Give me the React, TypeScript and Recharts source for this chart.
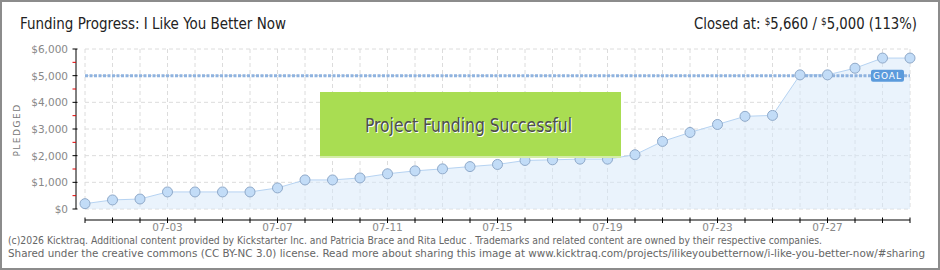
import React from 'react';
import { ComposedChart, Area, XAxis, YAxis, CartesianGrid, ReferenceLine } from 'recharts';

// daily pledged totals, 06-30 .. 07-30
const dates = [
  '06-30', '07-01', '07-02', '07-03', '07-04', '07-05', '07-06', '07-07', '07-08', '07-09', '07-10',
  '07-11', '07-12', '07-13', '07-14', '07-15', '07-16', '07-17', '07-18', '07-19', '07-20',
  '07-21', '07-22', '07-23', '07-24', '07-25', '07-26', '07-27', '07-28', '07-29', '07-30',
];
const pledged = [
  200, 340, 375, 640, 640, 640, 640, 790, 1090, 1090, 1165,
  1320, 1430, 1505, 1590, 1670, 1820, 1845, 1870, 1870, 2035,
  2535, 2870, 3170, 3475, 3510, 5030, 5030, 5280, 5660, 5660,
];
const labelledDates = ['07-03', '07-07', '07-11', '07-15', '07-19', '07-23', '07-27'];
const yTicks = [0, 500, 1000, 1500, 2000, 2500, 3000, 3500, 4000, 4500, 5000, 5500, 6000];
const gridValues = [0, 1000, 2000, 3000, 4000, 5000, 6000];
const goal = 5000;

const data = dates.map((d, i) => ({ date: d, pledged: pledged[i] }));

const condensed = "'DejaVu Sans Condensed', 'Liberation Sans Narrow', 'Roboto Condensed', sans-serif";

function XTick({ x, y, payload }: any) {
  const show = labelledDates.includes(payload.value);
  return (
    <g>
      <line x1={x} x2={x} y1={y + 8.5} y2={y + 14} stroke="#000" />
      {show && (
        <text x={x} y={y + 22} textAnchor="middle" fill="#888" fontSize={10.5} fontFamily="DejaVu Sans">
          {payload.value}
        </text>
      )}
    </g>
  );
}

function YTick({ x, y, payload }: any) {
  const major = payload.value % 1000 === 0;
  return (
    <g>
      <line x1={x - 12.5} x2={major ? x - 7.5 : x - 9} y1={y} y2={y} stroke={major ? '#000' : '#e00000'} />
      {major && (
        <text x={x - 17} y={y + 4} textAnchor="end" fill="#888" fontSize={10.5} fontFamily="DejaVu Sans">
          {'$' + payload.value.toLocaleString('en-US')}
        </text>
      )}
    </g>
  );
}

function GoalTag({ viewBox }: any) {
  const x = viewBox.x + viewBox.width - 39;
  const y = viewBox.y - 6;
  return (
    <g>
      <rect x={x} y={y} width={33} height={12} rx={2} fill="#5b9bdc" />
      <text x={x + 16.5} y={y + 9.5} textAnchor="middle" fill="#fff" fontSize={9} fontFamily="DejaVu Sans" letterSpacing={1}>
        GOAL
      </text>
    </g>
  );
}

export default function App() {
  return (
    <div style={{ position: 'fixed', left: 0, top: 0, width: 940, height: 270, background: '#fff' }}>
      <ComposedChart width={940} height={270} data={data} margin={{ top: 49, right: 30, bottom: 31, left: 0 }}>
        <CartesianGrid stroke="#dcdcdc" strokeDasharray="4 3" horizontalValues={gridValues} />
        <XAxis
          dataKey="date"
          interval={0}
          height={30}
          tickSize={0}
          tickMargin={0}
          tickLine={false}
          axisLine={{ stroke: '#000', transform: 'translate(0,11)' } as any}
          tick={<XTick />}
        />
        <YAxis
          domain={[0, 6000]}
          ticks={yTicks}
          interval={0}
          width={85}
          tickSize={0}
          tickMargin={0}
          tickLine={false}
          axisLine={{ stroke: '#000', transform: 'translate(-9,0)' } as any}
          tick={<YTick />}
        />
        <ReferenceLine
          y={goal}
          stroke="#8fb3df"
          strokeWidth={3}
          strokeDasharray="3 1.5"
          label={<GoalTag />}
        />
        <Area
          type="linear"
          dataKey="pledged"
          stroke="#b6d3f2"
          strokeWidth={1}
          fill="#d6e7fa"
          fillOpacity={0.5}
          dot={{ r: 5, fill: '#c2dcf7', stroke: '#8fa9c9', strokeWidth: 1, fillOpacity: 1 }}
          isAnimationActive={false}
        />
      </ComposedChart>
      <svg width={940} height={270} style={{ position: 'absolute', left: 0, top: 0, pointerEvents: 'none' }}>
        <rect x={1} y={1} width={938} height={268} fill="none" stroke="#8c8c8c" strokeWidth={2} />
        <text x={20} y={29} fontSize={15} fill="#222" fontFamily={condensed} textLength={266} lengthAdjust="spacingAndGlyphs">
          Funding Progress: I Like You Better Now
        </text>
        <text x={694} y={29} fontSize={15} fill="#222" fontFamily={condensed} textLength={223} lengthAdjust="spacingAndGlyphs">
          Closed at:{'  '}
          <tspan fontSize={10} dy={-4}>$</tspan>
          <tspan dy={4}>5,660 /{'  '}</tspan>
          <tspan fontSize={10} dy={-4}>$</tspan>
          <tspan dy={4}>5,000 (113%)</tspan>
        </text>
        <text
          x={20}
          y={130}
          transform="rotate(-90 20 130)"
          textAnchor="middle"
          fontSize={9}
          fill="#777"
          fontFamily="DejaVu Sans"
          letterSpacing={1.5}
        >
          PLEDGED
        </text>
        <rect x={320} y={92} width={301} height={66} fill="#a9dd52" />
        <rect x={320} y={156} width={301} height={2} fill="#d4eda8" />
        <text x={366} y={133} fontSize={19} fill="#fff" fontFamily={condensed} textLength={207} lengthAdjust="spacingAndGlyphs">
          Project Funding Successful
        </text>
        <text x={365} y={132} fontSize={19} fill="#4d4d4d" fontFamily={condensed} textLength={207} lengthAdjust="spacingAndGlyphs">
          Project Funding Successful
        </text>
        <text x={8} y={244} fontSize={10} fill="#666" fontFamily={condensed} textLength={814} lengthAdjust="spacingAndGlyphs">
          (c)2026 Kicktraq. Additional content provided by Kickstarter Inc. and  Patricia Brace and Rita Leduc . Trademarks and related content are owned by their respective companies.
        </text>
        <text x={8} y={257} fontSize={10} fill="#666" fontFamily={condensed} textLength={917} lengthAdjust="spacingAndGlyphs">
          Shared under the creative commons (CC BY-NC 3.0) license. Read more about sharing this image at www.kicktraq.com/projects/ilikeyoubetternow/i-like-you-better-now/#sharing
        </text>
      </svg>
    </div>
  );
}
